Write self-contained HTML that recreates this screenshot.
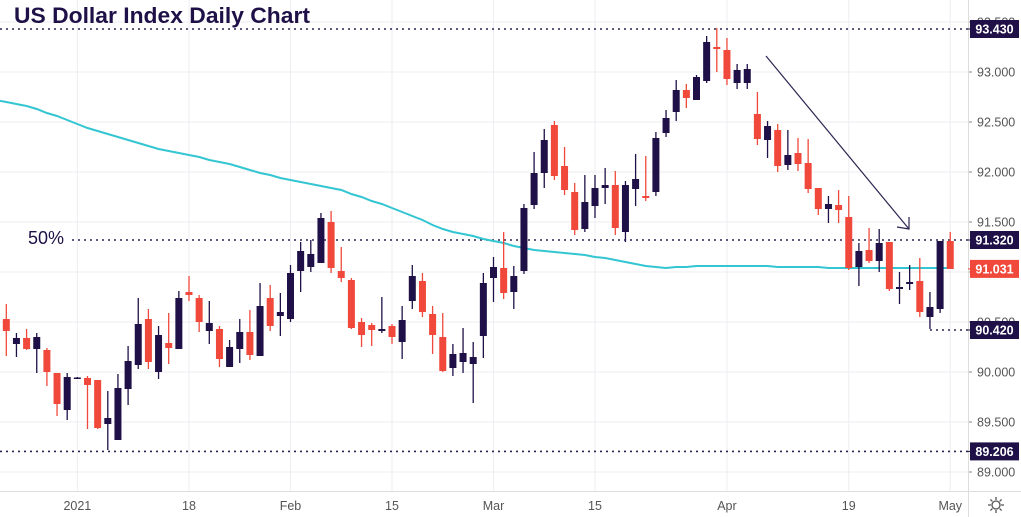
<!DOCTYPE html>
<html><head><meta charset="utf-8"><style>
html,body{margin:0;padding:0;background:#fff;}
svg{display:block;font-family:"Liberation Sans",sans-serif;}
</style></head><body>
<svg id="chart" width="1021" height="517" viewBox="0 0 1021 517" xmlns="http://www.w3.org/2000/svg">
<rect x="0" y="0" width="1021" height="517" fill="#fff"/>
<g id="grid"></g>
<g id="levels"></g>
<g id="ma"></g>
<g id="candles"></g>
<g id="axes"></g>
<text x="14" y="23" font-size="22" font-weight="bold" fill="#1f1147" textLength="296" lengthAdjust="spacingAndGlyphs">US Dollar Index Daily Chart</text>
<text x="28" y="244" font-size="18" fill="#1f1147">50%</text>
<line x1="766" y1="56" x2="909" y2="229" stroke="#2a2550" stroke-width="1.2"/>
<polyline points="897,227 909,229 909,217" fill="none" stroke="#2a2550" stroke-width="1.2"/>
<g transform="translate(996,505)">
<circle r="4" fill="none" stroke="#555" stroke-width="1.3"/>
<path d="M0,-8V-5M0,5V8M-8,0H-5M5,0H8M-5.6,-5.6L-3.6,-3.6M3.6,3.6L5.6,5.6M-5.6,5.6L-3.6,3.6M3.6,-3.6L5.6,-5.6" stroke="#555" stroke-width="1.3"/>
</g>
</svg>
<script>
const opens=[90.53,90.28,90.34,90.23,90.22,89.99,89.62,89.94,89.94,89.92,89.48,89.32,89.83,90.07,90.53,90.00,90.29,90.23,90.80,90.74,90.41,90.43,90.05,90.23,90.40,90.16,90.74,90.56,90.53,91.01,91.05,91.09,91.50,91.01,90.92,90.50,90.47,90.41,90.46,90.30,90.71,90.91,90.58,90.35,90.04,90.10,90.08,90.36,90.94,91.04,90.80,91.01,91.67,91.99,92.47,92.06,91.80,91.43,91.66,91.84,91.87,91.40,91.83,91.76,91.80,92.39,92.60,92.82,92.72,92.91,93.25,93.22,92.89,92.89,92.58,92.32,92.42,92.07,92.19,92.09,91.84,91.63,91.67,91.55,91.05,91.22,91.11,91.30,90.83,90.88,90.91,90.55,90.63,91.31];
const highs=[90.68,90.39,90.43,90.39,90.24,89.99,89.99,89.95,89.96,89.92,89.81,89.98,90.26,90.74,90.63,90.46,90.59,90.81,90.96,90.77,90.71,90.46,90.32,90.53,90.62,90.89,90.87,90.79,91.07,91.30,91.32,91.59,91.61,91.25,90.94,90.54,90.49,90.75,90.48,90.66,91.07,90.99,90.66,90.59,90.28,90.44,90.30,90.99,91.15,91.40,91.06,91.68,92.20,92.43,92.51,92.25,91.89,91.97,91.97,92.04,92.01,91.91,92.18,92.16,92.40,92.62,92.92,92.88,92.97,93.36,93.44,93.34,93.08,93.08,92.80,92.51,92.48,92.42,92.34,92.33,91.84,91.76,91.82,91.76,91.29,91.44,91.43,91.30,91.00,91.07,91.14,90.80,91.31,91.40];
const lows=[90.16,90.15,90.22,89.99,89.86,89.56,89.52,89.93,89.43,89.43,89.22,89.32,89.67,90.03,90.03,89.93,90.08,90.23,90.71,90.40,90.28,90.05,90.05,90.09,90.12,90.16,90.41,90.36,90.50,90.80,91.00,91.09,90.99,90.90,90.43,90.25,90.26,90.39,90.28,90.13,90.63,90.55,90.18,90.00,89.96,89.99,89.69,90.14,90.70,90.73,90.63,90.98,91.63,91.84,91.92,91.77,91.37,91.40,91.54,91.68,91.37,91.30,91.66,91.71,91.76,92.35,92.51,92.64,92.72,92.89,93.00,92.87,92.83,92.83,92.27,92.14,92.00,92.02,92.01,91.79,91.57,91.49,91.49,91.02,90.86,91.09,91.00,90.81,90.68,90.82,90.55,90.43,90.59,91.03];
const closes=[90.41,90.34,90.23,90.35,90.00,89.68,89.95,89.945,89.87,89.44,89.54,89.84,90.11,90.48,90.10,90.37,90.24,90.74,90.77,90.50,90.49,90.13,90.25,90.40,90.17,90.66,90.46,90.60,90.99,91.21,91.18,91.54,91.04,90.94,90.44,90.37,90.42,90.43,90.35,90.52,90.96,90.60,90.37,90.01,90.18,90.19,90.15,90.89,91.05,90.79,90.96,91.64,91.99,92.32,91.96,91.82,91.42,91.70,91.84,91.87,91.44,91.87,91.93,91.74,92.34,92.54,92.82,92.74,92.95,93.30,93.23,92.93,93.02,93.03,92.33,92.46,92.06,92.17,92.08,91.83,91.63,91.68,91.62,91.04,91.21,91.11,91.29,90.83,90.85,90.90,90.60,90.65,91.31,91.03];
const maValues=[92.70,92.68,92.66,92.63,92.59,92.56,92.52,92.48,92.44,92.41,92.38,92.35,92.32,92.29,92.26,92.23,92.21,92.19,92.17,92.15,92.12,92.10,92.08,92.05,92.02,91.99,91.97,91.94,91.92,91.90,91.88,91.86,91.84,91.82,91.78,91.75,91.71,91.68,91.64,91.60,91.56,91.52,91.47,91.43,91.40,91.38,91.36,91.33,91.31,91.29,91.26,91.24,91.22,91.21,91.20,91.19,91.18,91.17,91.15,91.14,91.12,91.10,91.08,91.06,91.05,91.04,91.05,91.05,91.06,91.06,91.06,91.06,91.06,91.06,91.06,91.06,91.05,91.05,91.05,91.05,91.05,91.04,91.04,91.04,91.04,91.04,91.04,91.04,91.04,91.04,91.04,91.04,91.04,91.04];
const yTicks=[93.5,93.0,92.5,92.0,91.5,91.0,90.5,90.0,89.5,89.0];
const yTickLabels=["93.500","93.000","92.500","92.000","91.500","91.000","90.500","90.000","89.500","89.000"];
const xTickIndex=[7,18,28,38,48,58,71,83,93];
const xTickLabels=["2021","18","Feb","15","Mar","15","Apr","19","May"];
const levelValues=[93.430,91.320,89.206,90.420];
const lastPrice=91.031;

const NS="http://www.w3.org/2000/svg";
const PLOT_R=968;
function yS(v){return 72+(93-v)*100;}
function xS(i){return 6.3+i*10.15;}
function mk(tag,attrs,parent){const e=document.createElementNS(NS,tag);for(const k in attrs)e.setAttribute(k,attrs[k]);parent.appendChild(e);return e;}

const grid=document.getElementById('grid');
const axes=document.getElementById('axes');
yTicks.forEach((v,k)=>{
  const l=mk('line',{x1:0,x2:PLOT_R,y1:yS(v),y2:yS(v),stroke:'#eeeef2','stroke-width':1},grid);
  
  
  const t=mk('line',{x1:PLOT_R,x2:PLOT_R+4,y1:yS(v),y2:yS(v),stroke:'#888'},axes);
  
  
  const tx=mk('text',{x:977,y:yS(v)+4.5,'font-size':12.5,fill:'#555'},axes);
  tx.textContent=yTickLabels[k];
  
  
});
xTickIndex.forEach((i,k)=>{
  const l=mk('line',{x1:xS(i),x2:xS(i),y1:0,y2:491,stroke:'#eeeef2','stroke-width':1},grid);
  
  
  const tx=mk('text',{x:xS(i),y:510,'font-size':12.5,fill:'#555','text-anchor':'middle'},axes);
  tx.textContent=xTickLabels[k];
  
  
});
const al=mk('line',{x1:0,x2:1021,y1:491.5,y2:491.5,stroke:'#ddd'},axes);


const ar=mk('line',{x1:PLOT_R+0.5,x2:PLOT_R+0.5,y1:0,y2:517,stroke:'#ddd'},axes);



// level lines
const lv=document.getElementById('levels');
const levelStart=[0,72,0,930];
levelValues.forEach((v,k)=>{
  const l=mk('line',{x1:levelStart[k],x2:PLOT_R,y1:yS(v),y2:yS(v),stroke:'#2a2550','stroke-width':1.6,'stroke-dasharray':'2 4'},lv);
  
  
});

// MA
const maG=document.getElementById('ma');
let d='M0,'+(yS(maValues[0])-(yS(maValues[1])-yS(maValues[0]))*0.62).toFixed(1);
maValues.forEach((v,i)=>{d+=' L'+xS(i).toFixed(1)+','+yS(v).toFixed(1);});
const mp=mk('path',{d:d,fill:'none',stroke:'#33c6d2','stroke-width':2},maG);



// candles
const cg=document.getElementById('candles');
opens.forEach((o,i)=>{
  const c=closes[i],up=c>=o,col=up?'#1f1147':'#f0493b';
  const x=xS(i);
  const w=mk('line',{x1:x,x2:x,y1:yS(highs[i]),y2:yS(lows[i]),stroke:col,'stroke-width':1.3},cg);
  
  
  const top=yS(Math.max(o,c)),bh=Math.max(1.5,Math.abs(yS(o)-yS(c)));
  const b=mk('rect',{x:x-3.5,y:top,width:7,height:bh,fill:col},cg);
  
  
});

// price labels
function box(v,col,name){
  const g=mk('g',{},axes);
  
  
  mk('rect',{x:970,y:yS(v)-9,width:49,height:18,fill:col},g);
  mk('line',{x1:PLOT_R,x2:972,y1:yS(v),y2:yS(v),stroke:col},g);
  const t=mk('text',{x:994.5,y:yS(v)+4.5,'font-size':12.5,'font-weight':'bold',fill:'#fff','text-anchor':'middle'},g);
  t.textContent=v.toFixed(3);
}
const boxNames=['label-93430','label-91320','label-89206','label-90420'];
levelValues.forEach((v,k)=>box(v,'#1f1147',boxNames[k]));
box(lastPrice,'#f0493b','last-price-label');
</script>
</body></html>
